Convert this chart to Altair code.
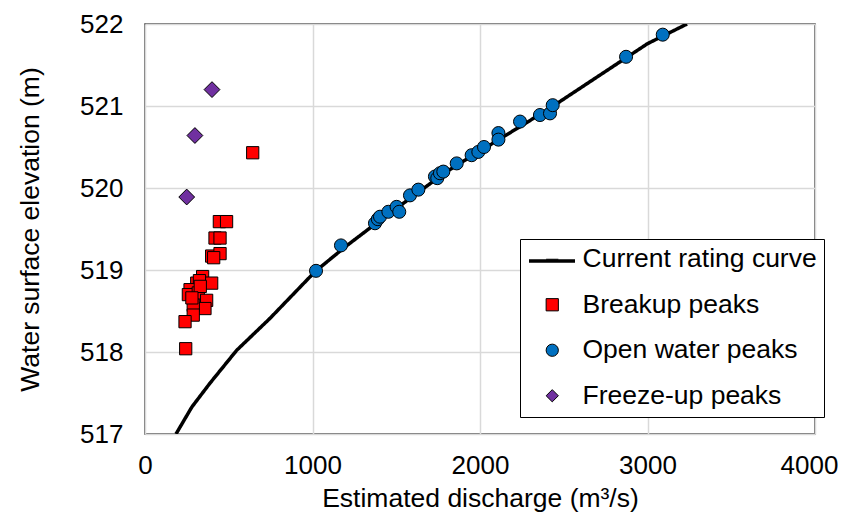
import altair as alt
import pandas as pd

series = ["Current rating curve", "Breakup peaks", "Open water peaks", "Freeze-up peaks"]
colors = ["#000000", "#FF0000", "#0070C0", "#7030A0"]
shapes = ["stroke", "square", "circle", "diamond"]

# Current rating curve
curve_q = [185, 280, 388, 547, 746, 1015, 1200, 1400, 1600, 1800, 2000, 2200, 2400, 2600, 2800, 3000, 3236]
curve_h = [517.0, 517.33, 517.62, 518.02, 518.41, 518.98, 519.29, 519.60, 519.90, 520.20, 520.45,
           520.70, 520.95, 521.22, 521.49, 521.76, 522.0]

# Breakup peaks
breakup_q = [643, 444, 487, 418, 448, 398, 448, 410, 344, 398, 309, 325, 269, 259, 318, 368,
             358, 288, 288, 239, 243, 330, 280]
breakup_h = [520.43, 519.59, 519.59, 519.39, 519.39, 519.17, 519.20, 519.15, 518.92, 518.84, 518.84,
             518.87, 518.76, 518.70, 518.72, 518.63, 518.53, 518.57, 518.45, 518.37, 518.04, 518.80, 518.66]

# Open water peaks
open_q = [1021, 1170, 1373, 1390, 1403, 1453, 1502, 1518, 1582, 1632, 1731, 1745, 1761, 1781, 1861,
          1950, 1990, 2024, 2110, 2110, 2239, 2358, 2418, 2434, 2872, 3091]
open_h = [518.99, 519.30, 519.57, 519.62, 519.65, 519.71, 519.77, 519.71, 519.91, 519.98, 520.14,
          520.12, 520.18, 520.20, 520.30, 520.40, 520.44, 520.50, 520.67, 520.59, 520.81, 520.89,
          520.91, 521.01, 521.60, 521.87]

# Freeze-up peaks
freeze_q = [400, 298, 249]
freeze_h = [521.20, 520.64, 519.89]

FONT = "Liberation Sans"

curve_df = pd.DataFrame({"q": curve_q, "h": curve_h, "curve": series[0]})
breakup_df = pd.DataFrame({"q": breakup_q, "h": breakup_h, "series": series[1]})
open_df = pd.DataFrame({"q": open_q, "h": open_h, "series": series[2]})
freeze_df = pd.DataFrame({"q": freeze_q, "h": freeze_h, "series": series[3]})

x = alt.X("q:Q", scale=alt.Scale(domain=[0, 4000], nice=False),
          axis=alt.Axis(values=[0, 1000, 2000, 3000, 4000], title="Estimated discharge (m³/s)",
                        format="d",
                        labelOffset={"condition": {"test": "datum.value == 4000", "value": -6},
                                     "value": 0}))
y = alt.Y("h:Q", scale=alt.Scale(domain=[517, 522], nice=False, zero=False),
          axis=alt.Axis(values=[517, 518, 519, 520, 521, 522], title="Water surface elevation (m)",
                        format="d"))

# Main legend box (4 entries, all labels)
legend = alt.Legend(
    orient="none", legendX=375, legendY=215, title=None,
    labelFont=FONT, labelFontSize=26.5, labelColor="#000000", labelLimit=400,
    strokeColor="#000000", fillColor="#FFFFFF", padding=7,
    symbolSize=150, symbolOffset=12, labelOffset=17, rowPadding=18.5,
    symbolStrokeColor="#000000", symbolStrokeWidth=1, zindex=1,
)
color = alt.Color("series:N", scale=alt.Scale(domain=series, range=colors), legend=legend)
shape = alt.Shape("series:N", scale=alt.Scale(domain=series, range=shapes), legend=legend)

# Overlay legend that draws only the thick line symbol of the rating curve
line_legend = alt.Legend(
    orient="none", legendX=382, legendY=212, title=None, padding=0,
    symbolType="stroke", symbolSize=2116, symbolStrokeWidth=3.5, symbolStrokeColor="#000000",
    labelExpr="''", labelFontSize=26, labelOffset=0, zindex=2,
)

line = alt.Chart(curve_df).mark_line(strokeWidth=3.5, clip=True, color="#000000").encode(
    x=x, y=y,
    strokeDash=alt.StrokeDash("curve:N", scale=alt.Scale(domain=[series[0]], range=[[1, 0]]),
                              legend=line_legend))


def pts(df, size):
    return alt.Chart(df).mark_point(filled=True, size=size, stroke="#000000", strokeWidth=1,
                                    opacity=1).encode(
        x=x, y=y, color=color, shape=shape)


chart = alt.layer(line, pts(breakup_df, 150), pts(open_df, 170), pts(freeze_df, 250)).properties(
    width=670, height=410,
    padding={"left": 137, "top": 16, "right": 23, "bottom": 84},
    autosize=alt.AutoSizeParams(type="none"),
).configure_view(
    stroke="#404040", strokeWidth=1.5
).configure_axis(
    grid=True, gridColor="#D9D9D9", gridWidth=1.5, domain=False, ticks=False, labelFlush=False,
    labelFont=FONT, labelFontSize=26, labelColor="#000000",
    titleFont=FONT, titleFontSize=26.5, titleFontWeight="normal", titleColor="#000000",
).configure_axisX(
    labelPadding=18, titlePadding=7
).configure_axisY(
    labelPadding=22, titlePadding=35
)

chart.save("out.html", embed_options={"renderer": "svg", "actions": False})
